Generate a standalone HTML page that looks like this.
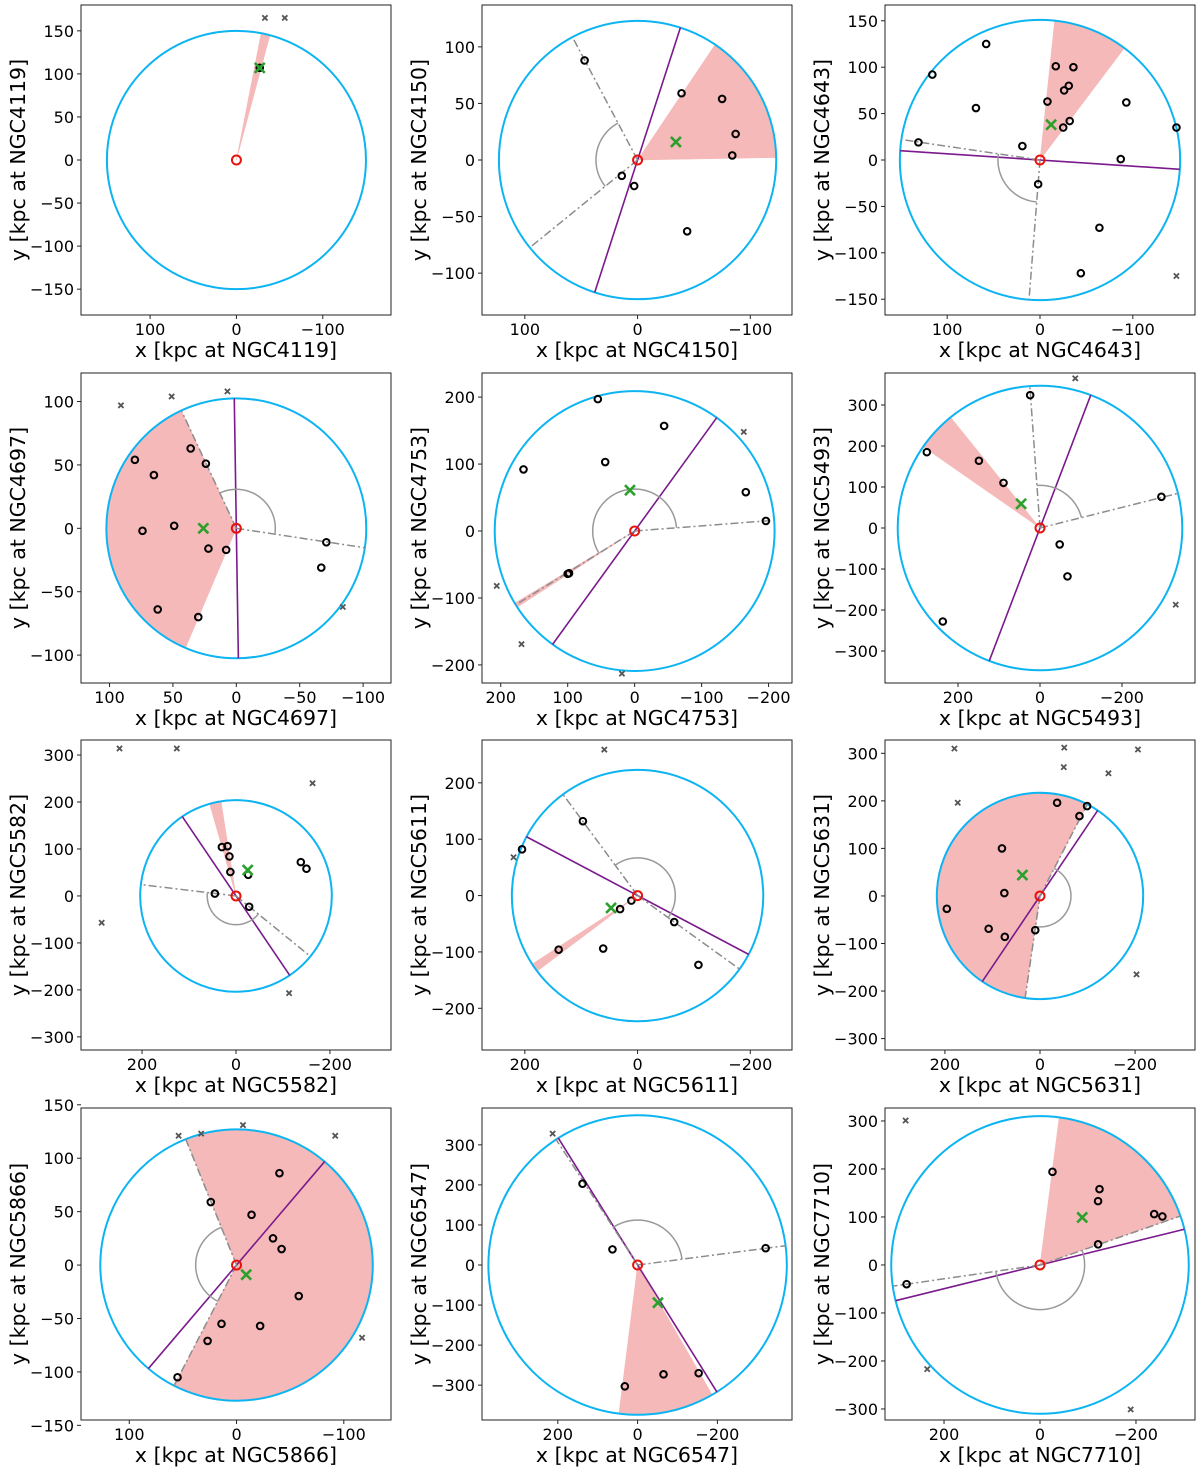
<!DOCTYPE html>
<html><head><meta charset="utf-8"><title>Satellite distributions</title>
<style>
html,body{margin:0;padding:0;background:#fff;}
svg{display:block;font-family:"DejaVu Sans","Liberation Sans",sans-serif;}
</style></head>
<body>
<svg id="fig" width="1200" height="1470" viewBox="0 0 1200 1470" xmlns="http://www.w3.org/2000/svg"></svg>
<script>
// ---- Data (kpc, angles in degrees measured in data coords, CCW from +x) ----
const names = ["NGC4119","NGC4150","NGC4643","NGC4697","NGC4753","NGC5493","NGC5582","NGC5611","NGC5631","NGC5866","NGC6547","NGC7710"];
const radii = [150,123,151,102.5,209,347,204,223,217,127,374,310];
const majorAxis = [null,108,3.8,89.1,125.9,110.9,55.9,27.9,124,130.3,57.9,166.1];
const wedgeStart = [101,124,96,-67,-33,34.8,74,-37,-81.7,68.1,240,97.4];
const wedgeEnd   = [105,179,127,65,-31,51.1,81,-33,117.3,297.3,277.2,160.8];
const rayA = [null,62,8.4,65,-31.8,85.9,219.1,53.6,117.3,-62.7,56.9,160.8];
const rayB = [null,-39,-85.5,188.6,175.6,165.9,366.8,215.8,278.3,68.1,172.6,351.8];
const greenX = [[-27,107],[-34,16],[-12,38],[26,0],[7,61],[46,59],[-25,55],[47,-22],[37,44],[-9,-9],[-51,-94],[-88,99]];
const sats1 = [[-27,107]];
const sats2 = [[47,88],[-39,59],[-75,54],[-87,23],[-84,4],[14,-14],[3,-23],[-44,-63]];
const sats3 = [[58,125],[116,92],[69,56],[131,19],[19,15],[-8,63],[-17,101],[-36,100],[-26,75],[-31,80],[-25,35],[-32,42],[-93,62],[-147,35],[-87,1],[2,-26],[-64,-73],[-44,-122]];
const sats4 = [[80,54],[65,42],[36,63],[24,51],[74,-2],[49,2],[22,-16],[8,-17],[62,-64],[30,-70],[-71,-11],[-67,-31]];
const sats5 = [[55,197],[-44,157],[44,103],[166,92],[-166,58],[-196,15],[100,-64],[98,-63]];
const sats6 = [[24,324],[276,185],[149,164],[89,110],[-296,76],[-48,-40],[-67,-118],[237,-228]];
const sats7 = [[30,104],[18,106],[14,84],[12,51],[-26,45],[45,5],[-28,-23],[-138,72],[-150,58]];
const sats8 = [[97,132],[205,82],[11,-9],[31,-24],[140,-96],[61,-94],[-65,-47],[-108,-123]];
const sats9 = [[-36,196],[-83,168],[-99,189],[80,100],[75,6],[196,-27],[108,-69],[74,-86],[10,-72]];
const sats10 = [[-40,86],[24,59],[-14,47],[-34,25],[-42,15],[-58,-29],[14,-55],[-22,-57],[27,-71],[55,-105]];
const sats11 = [[138,203],[63,39],[-321,42],[32,-303],[-65,-273],[-153,-270]];
const sats12 = [[-26,194],[-124,158],[-121,133],[-238,106],[-255,101],[-121,43],[278,-40]];
const sats = [sats1,sats2,sats3,sats4,sats5,sats6,sats7,sats8,sats9,sats10,sats11,sats12];
const out1 = [[-33,165],[-56,165]];
const out2 = [];
const out3 = [[-147,-125]];
const out4 = [[91,97],[51,104],[7,108],[-84,-62]];
const out5 = [[-163,148],[206,-82],[169,-169],[19,-213]];
const out6 = [[-86,365],[-331,-187]];
const out7 = [[248,314],[126,314],[-163,240],[286,-57],[-113,-207]];
const out8 = [[59,259],[220,68]];
const out9 = [[180,310],[-51,312],[-50,271],[-206,308],[-144,258],[173,196],[-203,-165]];
const out10 = [[54,121],[33,123],[-6,131],[-92,121],[-117,-68]];
const out11 = [[213,328]];
const out12 = [[280,301],[235,-217],[-189,-301]];
const outs = [out1,out2,out3,out4,out5,out6,out7,out8,out9,out10,out11,out12];
const xlims = [[180,-179],[138,-137],[167,-167],[122.5,-122],[228,-235],[378,-378],[330,-330],[276,-274],[326,-326],[145,-144],[390,-387],[323,-323]];
const ylims = [[-180,180],[-137,137],[-167,167],[-122,122.5],[-227,236],[-378,378],[-328,332],[-274,276],[-324,328],[-145,147],[-387,392],[-323,327]];
const xticks = [[100,0,-100],[100,0,-100],[100,0,-100],[100,50,0,-50,-100],[200,100,0,-100,-200],[200,0,-200],[200,0,-200],[200,0,-200],[200,0,-200],[100,0,-100],[200,0,-200],[200,0,-200]];
const yticks = [[150,100,50,0,-50,-100,-150],[100,50,0,-50,-100],[150,100,50,0,-50,-100,-150],[100,50,0,-50,-100],[200,100,0,-100,-200],[300,200,100,0,-100,-200,-300],[300,200,100,0,-100,-200,-300],[200,100,0,-100,-200],[300,200,100,0,-100,-200,-300],[150,100,50,0,-50,-100,-150],[300,200,100,0,-100,-200,-300],[300,200,100,0,-100,-200,-300]];

// ---- layout ----
const colX = [81,482,885], colW = 310;
const rowY = [5,373,740,1108], rowH = 310;
const NS = "http://www.w3.org/2000/svg";
const fig = document.getElementById('fig');
function el(tag, attrs, parent){ const e=document.createElementNS(NS,tag); for(const k in attrs) e.setAttribute(k,attrs[k]); (parent||fig).appendChild(e); return e; }
function fmt(v){ return v<0 ? "\u2212"+Math.abs(v) : String(v); }

for(let i=0;i<12;i++){
  const L=colX[i%3], T=rowY[Math.floor(i/3)], W=colW, H=(i>=9?312:rowH);
  const xl=xlims[i], yl=ylims[i];
  const sx = x => L + (xl[0]-x)/(xl[0]-xl[1])*W;
  const sy = y => T + (yl[1]-y)/(yl[1]-yl[0])*H;
  const R = radii[i];
  const pol = (r,a) => [sx(r*Math.cos(a*Math.PI/180)), sy(r*Math.sin(a*Math.PI/180))];
  const g = el('g',{});
  
  
  const cid='clip'+i;
  const defs=el('defs',{},g); const cp=el('clipPath',{id:cid},defs); el('rect',{x:L,y:T,width:W,height:H},cp);
  const plot = el('g',{'clip-path':'url(#'+cid+')'},g);
  {
    let pts=[[sx(0),sy(0)]]; const a1=wedgeStart[i], a2=wedgeEnd[i];
    for(let k=0;k<=80;k++){ pts.push(pol(R, a1+(a2-a1)*k/80)); }
    const w=el('polygon',{points:pts.map(p=>p.join(',')).join(' '),fill:'#f5b9b9',stroke:'#f5b9b9','stroke-width':0.5},plot);
    
    
  }
  const c=el('ellipse',{cx:sx(0),cy:sy(0),rx:Math.abs(sx(R)-sx(0)),ry:Math.abs(sy(R)-sy(0)),fill:'none',stroke:'#0db4f2','stroke-width':2},plot);
  
  
  if(majorAxis[i]!==null){
    const p1=pol(R,majorAxis[i]), p2=pol(-R,majorAxis[i]);
    const m=el('line',{x1:p1[0],y1:p1[1],x2:p2[0],y2:p2[1],stroke:'#7a1a8c','stroke-width':1.6},plot);
    
    
  }
  if(rayA[i]!==null){
    [rayA[i],rayB[i]].forEach(a=>{
      const p=pol(R,a);
      const r=el('line',{x1:sx(0),y1:sy(0),x2:p[0],y2:p[1],stroke:'#8c8c8c','stroke-width':1.5,'stroke-dasharray':'8,3,2,3'},plot);
      
      
    });
    let pts=[]; const a1=rayA[i], a2=rayB[i];
    for(let k=0;k<=60;k++) pts.push(pol(R*0.3, a1+(a2-a1)*k/60));
    const ar=el('polyline',{points:pts.map(p=>p.join(',')).join(' '),fill:'none',stroke:'#999','stroke-width':1.5},plot);
    
    
  }
  sats[i].forEach(p=>{
    const s=el('circle',{cx:sx(p[0]),cy:sy(p[1]),r:3.3,fill:'none',stroke:'#000','stroke-width':2},plot);
    
    
  });
  outs[i].forEach(p=>{
    const x=sx(p[0]), y=sy(p[1]), d=2.6;
    const o=el('path',{d:`M${x-d},${y-d}L${x+d},${y+d}M${x-d},${y+d}L${x+d},${y-d}`,stroke:'#555','stroke-width':1.8},plot);
    
    
  });
  {
    const x=sx(greenX[i][0]), y=sy(greenX[i][1]), d=5;
    const gx=el('path',{d:`M${x-d},${y-d}L${x+d},${y+d}M${x-d},${y+d}L${x+d},${y-d}`,stroke:'#2ca02c','stroke-width':2.6},plot);
    
    
  }
  const o=el('circle',{cx:sx(0),cy:sy(0),r:4.5,fill:'none',stroke:'#e8140c','stroke-width':2},plot);
  
  
  const fr=el('rect',{x:L,y:T,width:W,height:H,fill:'none',stroke:'#222','stroke-width':1},g);
  
  
  xticks[i].forEach(v=>{
    const x=sx(v);
    el('line',{x1:x,y1:T+H,x2:x,y2:T+H+4,stroke:'#222','stroke-width':1},g);
    const t=el('text',{x:x,y:T+H+20,'text-anchor':'middle','font-size':16,fill:'#000'},g);
    t.textContent=fmt(v);
    
    
  });
  yticks[i].forEach(v=>{
    const y=sy(v);
    el('line',{x1:L-4,y1:y,x2:L,y2:y,stroke:'#222','stroke-width':1},g);
    const t=el('text',{x:L-7,y:y+6,'text-anchor':'end','font-size':16,fill:'#000'},g);
    t.textContent=fmt(v);
    
    
  });
  const xt=el('text',{x:L+W/2,y:T+H+42,'text-anchor':'middle','font-size':20.5,fill:'#000'},g);
  xt.textContent='x [kpc at '+names[i]+']';
  
  
  const yx=L-56, yy=T+H/2;
  const yt=el('text',{x:yx,y:yy,'text-anchor':'middle','font-size':20.5,fill:'#000',transform:`rotate(-90 ${yx} ${yy})`},g);
  yt.textContent='y [kpc at '+names[i]+']';
  
  
}
</script>
</body></html>
